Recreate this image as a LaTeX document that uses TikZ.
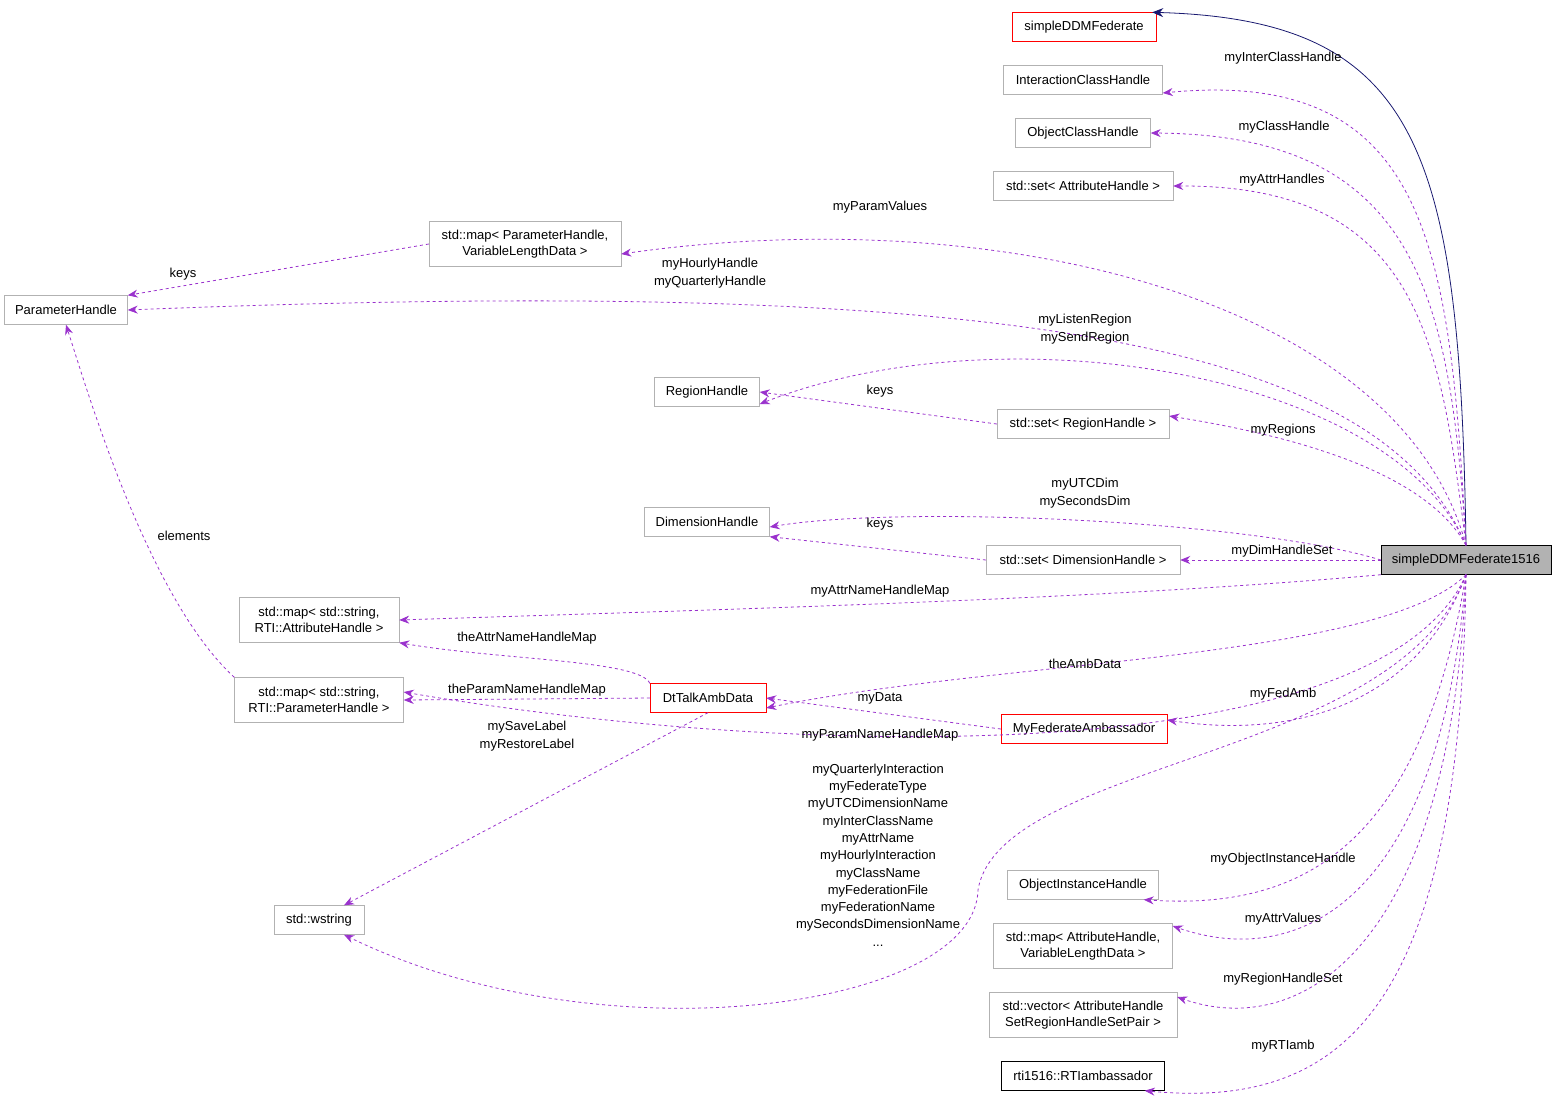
\documentclass[tikz,border=0pt]{standalone}
\usepackage{fontspec}
\setmainfont{Liberation Sans}
\usetikzlibrary{arrows.meta}
\definecolor{pur}{HTML}{9A32CD}
\definecolor{nv}{HTML}{191970}
\begin{document}
\begin{tikzpicture}[x=1pt,y=-1pt,font=\fontsize{13}{16}\selectfont,
 box/.style={draw=#1,fill=white,inner sep=0pt,minimum height=29pt,align=center},
 box/.default={gray!60},
 rel/.style={pur,dashed,thick,-{Stealth[length=10pt,width=8pt]}},
 lbl/.style={align=center,inner sep=0pt,font=\fontsize{13}{18}\selectfont}]
\useasboundingbox (0,0) rectangle (1557,1104);
\node[box=red,minimum width=144pt] (sdf) at (1084,27) {simpleDDMFederate};
\node[box,minimum width=159pt] (ich) at (1083,80) {InteractionClassHandle};
\node[box,minimum width=135pt] (och) at (1083,133) {ObjectClassHandle};
\node[box,minimum width=180pt] (sah) at (1083,186) {std::set< AttributeHandle >};
\node[box,minimum width=192pt,minimum height=45pt] (mpv) at (525,244) {std::map< ParameterHandle,\\VariableLengthData >};
\node[box,minimum width=123pt] (ph) at (66,310) {ParameterHandle};
\node[box,minimum width=105pt] (rh) at (707,392) {RegionHandle};
\node[box,minimum width=172pt] (srh) at (1083,424) {std::set< RegionHandle >};
\node[box,minimum width=125pt] (dh) at (707,522) {DimensionHandle};
\node[box,minimum width=194pt] (sdh) at (1083,560) {std::set< DimensionHandle >};
\node[box=black,fill=gray!60,minimum width=170pt] (main) at (1466,560) {simpleDDMFederate1516};
\node[box,minimum width=160pt,minimum height=45pt] (mah) at (319,620) {std::map< std::string,\\RTI::AttributeHandle >};
\node[box,minimum width=169pt,minimum height=45pt] (mph) at (319,700) {std::map< std::string,\\RTI::ParameterHandle >};
\node[box=red,minimum width=116pt] (dt) at (708,698) {DtTalkAmbData};
\node[box=red,minimum width=166pt] (mfa) at (1084,729) {MyFederateAmbassador};
\node[box,minimum width=90pt] (ws) at (319,920) {std::wstring};
\node[box,minimum width=151pt] (oih) at (1083,885) {ObjectInstanceHandle};
\node[box,minimum width=179pt,minimum height=45pt] (mav) at (1083,946) {std::map< AttributeHandle,\\VariableLengthData >};
\node[box,minimum width=188pt,minimum height=45pt] (vec) at (1083,1015) {std::vector< AttributeHandle\\SetRegionHandleSetPair >};
\node[box=black,minimum width=163pt] (rti) at (1083,1076) {rti1516::RTIambassador};
\coordinate (m1) at (978,890);

\draw[nv,thick,-{Stealth[length=11pt,width=9pt]}] (main.north) .. controls (1460,150) and (1420,20) .. ([xshift=-4pt]sdf.north east);
\draw[rel] (main.north) .. controls (1450,250) and (1430,67) .. ([yshift=-13pt]ich.east);
\draw[rel] (main.north) .. controls (1450,300) and (1420,135) .. (och.east);
\draw[rel] (main.north) .. controls (1440,340) and (1420,185) .. (sah.east);
\draw[rel] (main.north) .. controls (1400,300) and (1000,200) .. ([yshift=-10pt]mpv.east);
\draw[rel] (main.north) .. controls (1380,340) and (1000,275) .. (ph.east);
\draw[rel] (mpv.west) -- (ph.north east);
\draw[rel] (main.north) .. controls (1390,370) and (1000,310) .. ([yshift=-12pt]rh.east);
\draw[rel] (srh.west) -- (rh.east);
\draw[rel] (main.north) .. controls (1430,480) and (1320,440) .. ([yshift=8pt]srh.east);
\draw[rel] (main.west) .. controls (1250,520) and (900,505) .. ([yshift=-5pt]dh.east);
\draw[rel] (sdh.west) -- (dh.south east);
\draw[rel] (main.west) -- (sdh.east);
\draw[rel] (main.south west) .. controls (1100,600) and (700,610) .. (mah.east);
\draw[rel] (dt.north west) .. controls (640,660) and (500,660) .. (mah.south east);
\draw[rel] (main.south) .. controls (1380,660) and (1000,660) .. ([yshift=-10pt]dt.east);
\draw[rel] (dt.west) -- (mph.east);
\draw[rel] (mfa.west) -- (dt.east);
\draw[rel] (main.south) .. controls (1420,700) and (1300,740) .. ([yshift=9pt]mfa.east);
\draw[rel] (main.south) .. controls (1380,770) and (800,760) .. ([yshift=8pt]mph.east);
\draw[rel] (mph.north west) .. controls (150,600) and (90,400) .. (ph.south);
\draw[rel] (dt.south) -- ([xshift=25pt]ws.north);
\draw[rel] (main.south) .. controls (1400,760) and (1000,760) .. (m1) .. controls (975,1010) and (600,1060) .. ([xshift=25pt]ws.south);
\draw[rel] (main.south) .. controls (1420,850) and (1300,910) .. ([xshift=-15pt]oih.south east);
\draw[rel] (main.south) .. controls (1440,900) and (1300,970) .. ([yshift=20pt]mav.east);
\draw[rel] (main.south) .. controls (1450,950) and (1300,1040) .. ([yshift=18pt]vec.east);
\draw[rel] (main.south) .. controls (1460,1000) and (1350,1110) .. ([xshift=-20pt]rti.south east);

\node[lbl] (l1) at (1283,58) {myInterClassHandle};
\node[lbl] (l2) at (1284,127) {myClassHandle};
\node[lbl] (l3) at (1282,180) {myAttrHandles};
\node[lbl] (l4) at (880,207) {myParamValues};
\node[lbl] (l5) at (183,274) {keys};
\node[lbl] (l6) at (710,273) {myHourlyHandle\\myQuarterlyHandle};
\node[lbl] (l7) at (1085,329) {myListenRegion\\mySendRegion};
\node[lbl] (l8) at (880,391) {keys};
\node[lbl] (l9) at (1283,430) {myRegions};
\node[lbl] (l10) at (1085,493) {myUTCDim\\mySecondsDim};
\node[lbl] (l11) at (880,524) {keys};
\node[lbl] (l12) at (1282,551) {myDimHandleSet};
\node[lbl] (l13) at (184,536) {elements};
\node[lbl] (l14) at (880,591) {myAttrNameHandleMap};
\node[lbl] (l15) at (527,638) {theAttrNameHandleMap};
\node[lbl] (l16) at (1085,664) {theAmbData};
\node[lbl] (l17) at (527,690) {theParamNameHandleMap};
\node[lbl] (l18) at (880,698) {myData};
\node[lbl] (l19) at (1283,694) {myFedAmb};
\node[lbl] (l20) at (527,736) {mySaveLabel\\myRestoreLabel};
\node[lbl] (l21) at (880,735) {myParamNameHandleMap};
\node[lbl,font=\fontsize{13}{17.3}\selectfont] (l22) at (878,855) {myQuarterlyInteraction\\myFederateType\\myUTCDimensionName\\myInterClassName\\myAttrName\\myHourlyInteraction\\myClassName\\myFederationFile\\myFederationName\\mySecondsDimensionName\\...};
\node[lbl] (l23) at (1283,859) {myObjectInstanceHandle};
\node[lbl] (l24) at (1283,919) {myAttrValues};
\node[lbl] (l25) at (1283,979) {myRegionHandleSet};
\node[lbl] (l26) at (1283,1046) {myRTIamb};
\end{tikzpicture}
\end{document}
